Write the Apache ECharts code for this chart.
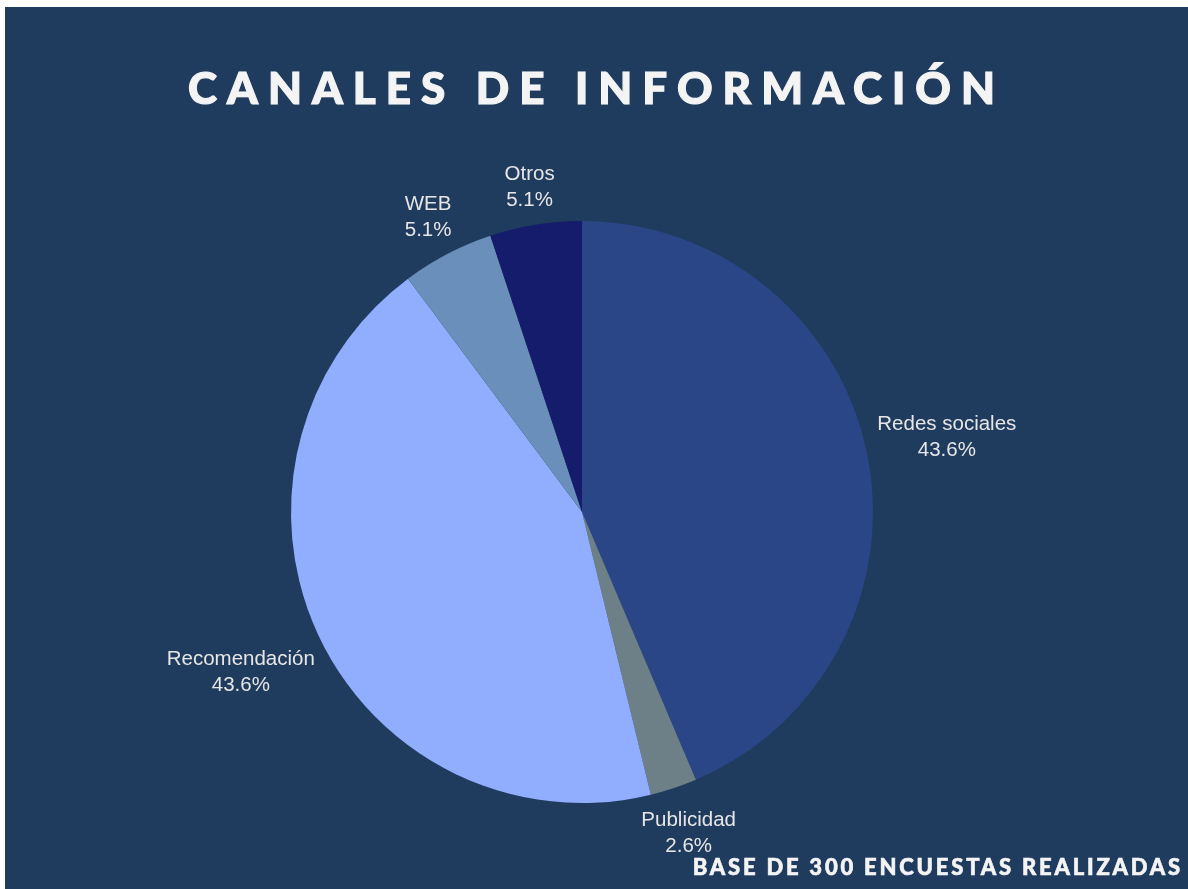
<!DOCTYPE html>
<html>
<head>
<meta charset="utf-8">
<script src="https://cdn.jsdelivr.net/npm/echarts@6/dist/echarts.min.js"></script>
<style>
  html, body { margin: 0; padding: 0; background: #ffffff; }
  #wrap { position: absolute; left: 5px; top: 7px; width: 1183px; height: 882px; background: #1f3b5e; overflow: hidden; }
  #chart { position: absolute; left: 0; top: 0; width: 1183px; height: 882px; }
  #title { position: absolute; left: 0; width: 1183px; top: 54px; text-align: center; color: #f4f4f4;
           font-family: 'Lato', sans-serif; font-weight: 900; font-size: 44px; letter-spacing: 10px; line-height: 52px;
           white-space: nowrap; -webkit-text-stroke: 1.2px #f4f4f4; }
  #foot { position: absolute; right: 5px; top: 847px; color: #f4f4f4; font-family: 'Lato', sans-serif; font-weight: 900;
          font-size: 22px; letter-spacing: 2.8px; line-height: 26px; white-space: nowrap; -webkit-text-stroke: 0.6px #f4f4f4; }
</style>
</head>
<body>
<div id="wrap">
  <div id="chart"></div>
  <div id="title">CANALES DE INFORMACIÓN</div>
  <div id="foot">BASE DE 300 ENCUESTAS REALIZADAS</div>
</div>
<script>
const categories = ['Redes sociales', 'Publicidad', 'Recomendación', 'WEB', 'Otros'];
const values = [43.6, 2.6, 43.6, 5.1, 5.1];
const colors = ['#2a4686', '#6e8087', '#91aefe', '#6a8fba', '#141c6b'];

const CX = 577, CY = 505, R = 291, GAP = 8;
const total = values.reduce((a, b) => a + b, 0);

const chart = echarts.init(document.getElementById('chart'));
chart.setOption({
  animation: false,
  backgroundColor: 'transparent',
  series: [{
    type: 'pie',
    center: [CX, CY],
    radius: [0, R],
    startAngle: 90,
    clockwise: true,
    avoidLabelOverlap: false,
    emphasis: { disabled: true },
    itemStyle: { borderWidth: 0 },
    label: {
      show: true,
      position: 'outside',
      formatter: p => p.name + '\n' + p.value + '%',
      color: '#e6e6e6',
      fontFamily: 'Liberation Sans, Arial, sans-serif',
      fontSize: 20.5,
      lineHeight: 26
    },
    labelLine: { show: false },
    labelLayout: function (p) {
      const i = p.dataIndex;
      let cum = 0;
      for (let k = 0; k < i; k++) cum += values[k];
      const mid = (cum + values[i] / 2) / total * Math.PI * 2;
      const ux = Math.sin(mid), uy = -Math.cos(mid);
      const w = p.labelRect.width, h = p.labelRect.height;
      const ext = w / 2 * Math.abs(ux) + h / 2 * Math.abs(uy);
      const d = R + GAP + ext;
      return { x: CX + ux * d, y: CY + uy * d, align: 'center', verticalAlign: 'middle' };
    },
    data: categories.map((c, i) => ({ name: c, value: values[i], itemStyle: { color: colors[i] } }))
  }]
});
</script>
</body>
</html>
